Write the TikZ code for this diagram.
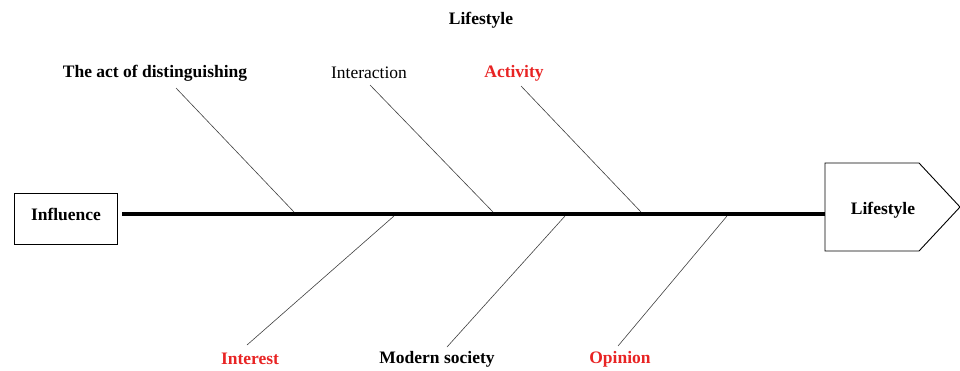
\documentclass[tikz,border=0pt]{standalone}
\usepackage{fontspec}
\setmainfont{Liberation Serif}
\usetikzlibrary{positioning}
\definecolor{causered}{RGB}{232,36,36}
\begin{document}
\begin{tikzpicture}[x=1pt, y=-1pt,
    every node/.style={font=\fontsize{17.5}{20}\selectfont, inner sep=0pt},
    cause/.style={font=\fontsize{17.5}{20}\selectfont\bfseries},
    redcause/.style={cause, text=causered},
    bone/.style={draw=black!75, line width=0.6pt},
    spine/.style={draw=black, line width=3.5pt}]
            \useasboundingbox (0,0) rectangle (960,370);

            \node[cause] (title) at (481,20) {Lifestyle};

            \draw[line width=0.9pt] (14,193) rectangle (117,244);
            \node[cause] (influence) at (66,214) {Influence};
            \coordinate (tail) at (122,214);

            \draw[line width=0.9pt] (825,163) -- (919,163) -- (960,207) -- (919,251) -- (825,251) -- cycle;
            \node[cause] (lifestyle) at (883,210) {Lifestyle};
            \coordinate (head) at (825,214);

            \draw[spine] (tail) -- (head);

            % top
            \node[cause] (distinguish) at (155,73) {The act of distinguishing};
            \node (interaction) at (369,73) {Interaction};
            \node[redcause] (activity) at (514,73) {Activity};
            \coordinate (t1a) at (176,88);  \coordinate (t1b) at (294,212);
            \coordinate (t2a) at (370,85);  \coordinate (t2b) at (493,212);
            \coordinate (t3a) at (521,86);  \coordinate (t3b) at (641,212);
            \draw[bone] (t1a) -- (t1b);
            \draw[bone] (t2a) -- (t2b);
            \draw[bone] (t3a) -- (t3b);

            % bottom
            \node[redcause] (interest) at (250,359) {Interest};
            \node[cause] (modern) at (437,359) {Modern society};
            \node[redcause] (opinion) at (620,359) {Opinion};
            \coordinate (b1a) at (394,216); \coordinate (b1b) at (247,345);
            \coordinate (b2a) at (565,216); \coordinate (b2b) at (447,347);
            \coordinate (b3a) at (727,216); \coordinate (b3b) at (618,346);
            \draw[bone] (b1a) -- (b1b);
            \draw[bone] (b2a) -- (b2b);
            \draw[bone] (b3a) -- (b3b);
        \end{tikzpicture}
\end{document}
